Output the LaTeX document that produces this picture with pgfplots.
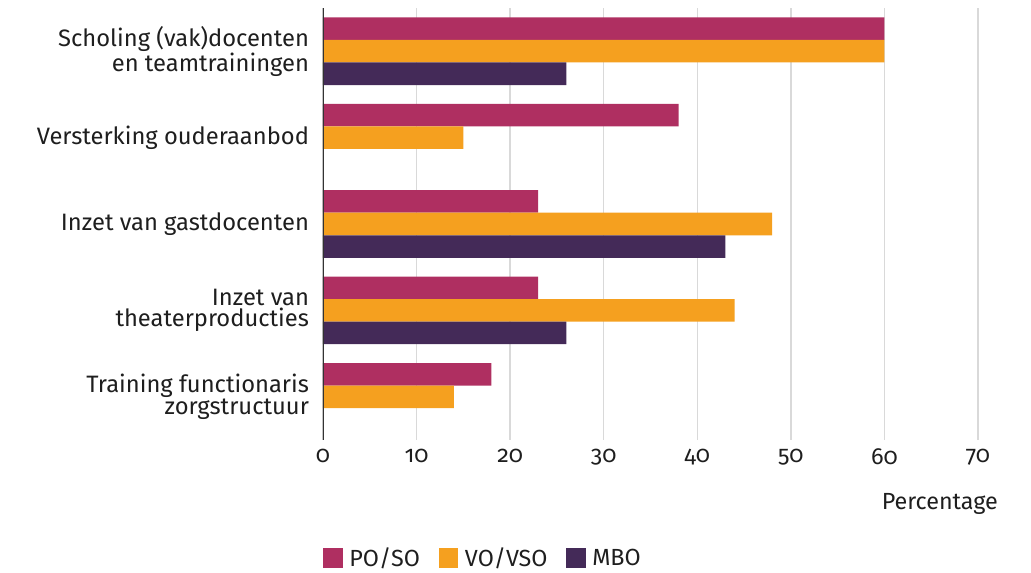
\documentclass[border=0pt]{standalone}
\usepackage{fontspec}
\setmainfont{Fira Sans}[Numbers=OldStyle]
\usepackage{pgfplots}
\pgfplotsset{compat=1.18}
\definecolor{cpo}{HTML}{AF2F61}
\definecolor{cvo}{HTML}{F5A01F}
\definecolor{cmbo}{HTML}{442A58}
\definecolor{txt}{HTML}{1E1E1E}
\begin{document}
\begin{tikzpicture}
\path[use as bounding box] (-242.25pt,-99pt) rectangle (531pt,330pt);
\begin{axis}[
  at={(0,0)}, anchor=south west,
  scale only axis, width=491.25pt, height=324pt,
  xmin=0, xmax=70, xtick={0,10,...,70},
  ymin=-0.5, ymax=4.5, y dir=reverse,
  ytick={0,1,2,3,4},
  yticklabels={{Scholing (vak)docenten\\en teamtrainingen},{Versterking ouderaanbod},{Inzet van gastdocenten},{Inzet van\\theaterproducties},{Training functionaris\\zorgstructuur}},
  yticklabel style={align=right, font=\fontsize{17.8}{16}\selectfont, text=txt, xshift=-7pt},
  xticklabel style={font=\fontsize{17.5}{16}\selectfont, text=txt, yshift=-3pt},
  /pgf/number format/assume math mode=true,
  major tick length=0pt,
  axis line style={draw=none},
  xmajorgrids, grid style={color=black!15, line width=1.1pt},
  xbar, bar width=16.9pt,
  xlabel={Percentage},
  xlabel style={font=\fontsize{17.5}{16}\selectfont, text=txt, anchor=base east, at={(rel axis cs:1.0305,0)}, xshift=3.5pt, yshift=-51.75pt},
  legend columns=3,
  legend style={draw=none, fill=none, at={(rel axis cs:0,0)}, anchor=west, yshift=-88.5pt, inner sep=0pt, font=\fontsize{17.5}{16}\selectfont, text=txt, /tikz/every even column/.append style={column sep=12pt}, /tikz/every odd column/.append style={column sep=3pt}},
  legend image code/.code={\fill[#1] (0pt,-7.3pt) rectangle (14.6pt,7.3pt);},
]
\addplot[draw=none, fill=cpo, bar shift=16.9pt] coordinates {(60,0) (38,1) (23,2) (23,3) (18,4)};
\addplot[draw=none, fill=cvo, bar shift=0pt] coordinates {(60,0) (15,1) (48,2) (44,3) (14,4)};
\addplot[draw=none, fill=cmbo, bar shift=-16.9pt] coordinates {(26,0) (43,2) (26,3)};
\legend{PO/SO, VO/VSO, MBO}
\draw[color=black!80, line width=1.1pt] (rel axis cs:0,0) -- (rel axis cs:0,1);
\end{axis}
\end{tikzpicture}
\end{document}
